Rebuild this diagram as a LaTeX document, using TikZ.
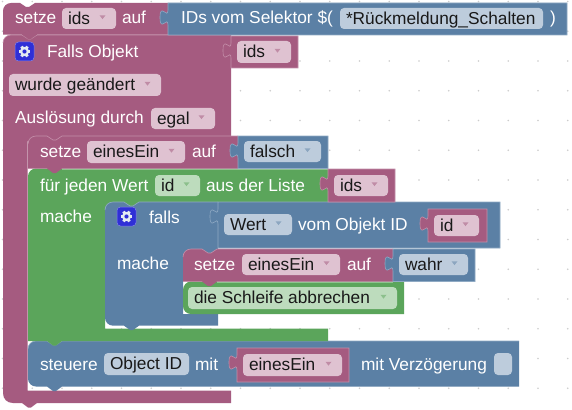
\documentclass[tikz,border=0pt]{standalone}
\usepackage{fontspec}
\setmainfont{Liberation Sans}
\definecolor{pk}{HTML}{A55B80}
\definecolor{pkl}{HTML}{C48FAA}
\definecolor{pkf}{HTML}{DFC2D1}
\definecolor{bl}{HTML}{5B80A5}
\definecolor{bll}{HTML}{8FAAC4}
\definecolor{blf}{HTML}{BDCCDC}
\definecolor{gr}{HTML}{5BA55B}
\definecolor{grl}{HTML}{8FC48F}
\definecolor{grf}{HTML}{BDDCBD}
\definecolor{ico}{HTML}{2F2FD6}
\newcount\txtn
\newcommand{\blktxt}[3]{\global\advance\txtn by 1
  \node[lbl,text=#1] (t\the\txtn) at (#2) {#3};}
\newcommand{\lb}[3]{\blktxt{white}{#1,#2}{#3}}
% field: x1 y1 x2 y2 fill arrowcol text
\newcommand{\fld}[7]{\fill[#5,rounded corners=4pt] (#1,#2) rectangle (#3,#4);
  \blktxt{black!90}{#1+6,{(#2+#4)/2+5.6}}{#7}
  \fill[#6] (#3-16.5,{(#2+#4)/2-3.2}) -- (#3-10.5,{(#2+#4)/2-3.2}) -- (#3-13.5,{(#2+#4)/2+0.6}) -- cycle;}
\newcommand{\fldn}[6]{\fill[#5,rounded corners=4pt] (#1,#2) rectangle (#3,#4);
  \blktxt{black!90}{#1+6,{(#2+#4)/2+5.6}}{#6}}
% value block: x1 y1 x2 y2 col light
\newcommand{\valb}[6]{\filldraw[fill=#5,draw=#6,line width=.6pt]
  (#1,#2) -- (#3,#2) -- (#3,#4) -- (#1,#4) -- (#1,#2+22)
  .. controls (#1,#2+12) and (#1-8,#2+30) .. (#1-8,#2+14.5)
  .. controls (#1-8,#2-1) and (#1,#2+17) .. (#1,#2+7) -- cycle;}
% top edge highlight: x1 y1 x2 light
\newcommand{\tophl}[4]{\draw[#4,line width=.6pt]
  (#1,#2+8) .. controls (#1,#2+3.5) and (#1+3.5,#2) .. (#1+8,#2) -- (#1+19,#2) -- (#1+25,#2+4) -- (#1+28,#2+4) -- (#1+34,#2) -- (#3,#2);}
% plain statement, square bottom left, bottom tab
\newcommand{\stmt}[6]{\fill[#5]
  (#1,#2+8) .. controls (#1,#2+3.5) and (#1+3.5,#2) .. (#1+8,#2) -- (#1+19,#2) -- (#1+25,#2+4) -- (#1+28,#2+4) -- (#1+34,#2)
  -- (#3,#2) -- (#3,#4) -- (#1+34,#4) -- (#1+28,#4+4.5) -- (#1+25,#4+4.5) -- (#1+19,#4) -- (#1,#4) -- cycle;
  \tophl{#1}{#2}{#3}{#6}}
\newcommand{\gearico}[2]{%
  \begin{scope}[shift={(#1,#2)}]
  \fill[ico,rounded corners=3.5pt,draw=ico!60!white,line width=.5pt] (-9.5,-9.5) rectangle (9.5,9.5);
  \foreach \a in {0,60,...,300}{\draw[blf!40!white,line width=3pt] (0,0) -- (\a:5.8);}
  \fill[blf!40!white] (0,0) circle (4.6pt);
  \fill[ico] (0,0) circle (2.1pt);
  \end{scope}}
\begin{document}
\begin{tikzpicture}[x=1pt,y=-1pt,
  lbl/.style={inner sep=0pt,outer sep=0pt,anchor=base west,font=\fontsize{17.3}{20}\selectfont}]
\useasboundingbox (0,0) rectangle (572,409);
\fill[white] (0,0) rectangle (572,409);
\foreach \i in {0,...,19}\foreach \j in {0,...,13}{\fill[black!20] (2.5+29.75*\i,1.5+29.75*\j) circle (.9pt);}
% Falls Objekt
\fill[pk] (3,43) .. controls (3,38.5) and (6.5,35) .. (11,35) -- (22,35) -- (28,39) -- (31,39) -- (37,35)
  -- (231,35) -- (231,141) -- (27.5,141) -- (27.5,390.7) -- (231,390.7) -- (231,403) -- (37,403) -- (31,407.5) -- (28,407.5) -- (22,403) -- (13,403)
  .. controls (7,403) and (3,399) .. (3,393) -- cycle;
\tophl{3}{35}{231}{pkl}
% steuere
\fill[bl] (28,349) .. controls (28,344.5) and (31.5,341) .. (36,341) -- (47,341) -- (53,345) -- (56,345) -- (62,341)
  -- (519,341) -- (519,386.5) -- (62,386.5) -- (56,391) -- (53,391) -- (47,386.5) -- (36,386.5)
  .. controls (31.5,386.5) and (28,383) .. (28,378.5) -- cycle;
\tophl{28}{341}{519}{bll}
\valb{237}{348}{349}{382}{pk}{pkl}
% for
\fill[gr] (28,176.5) .. controls (28,172) and (31.5,168.5) .. (36,168.5) -- (47,168.5) -- (328,168.5) -- (328,202) -- (218,202) -- (218,208) -- (105,208)
  -- (105,328.5) -- (328,328.5) -- (328,341) -- (62,341) -- (56,345.5) -- (53,345.5) -- (47,341) -- (28,341) -- cycle;
\draw[grl,line width=.6pt] (62,168.8) -- (328,168.8);
% falls
\fill[bl] (105,210) .. controls (105,205.5) and (108.5,202) .. (113,202) -- (124,202) -- (130,206) -- (133,206) -- (139,202)
  -- (218,202) -- (218,254) -- (190,254) -- (190,258) -- (183,258) -- (183,314) -- (218,314) -- (218,325.7) -- (139,325.7) -- (133,330) -- (130,330) -- (124,325.7) -- (113,325.7)
  .. controls (108.5,325.7) and (105,322) .. (105,317.7) -- cycle;
\tophl{105}{202}{218}{bll}
\valb{218}{202}{500}{248}{bl}{bll}
\valb{428}{209}{487}{242}{pk}{pkl}
% die Schleife
\fill[gr] (183,290) .. controls (183,285.5) and (186.5,281.5) .. (191,281.5) -- (404,281.5) -- (404,314) -- (191,314)
  .. controls (186.5,314) and (183,310.5) .. (183,306) -- cycle;
\draw[grl,line width=.6pt] (217,281.8) -- (393,281.8);
% setze inner
\stmt{183}{249}{393}{281.5}{pk}{pkl}
\valb{393}{249}{475}{281.5}{bl}{bll}
% setze einesEin
\stmt{28}{136}{238}{168.5}{pk}{pkl}
\valb{238}{136}{328}{168.5}{bl}{bll}
\valb{328}{169}{395}{202}{pk}{pkl}
\valb{231}{36}{298}{68}{pk}{pkl}
% setze ids
\fill[pk] (3,11) .. controls (3,6.5) and (6.5,3) .. (11,3) -- (20,3) -- (26,7) -- (29,7) -- (35,3) -- (168,3) -- (168,34.7) -- (37,34.7) -- (31,39) -- (28,39) -- (22,34.7) -- (3,34.7) -- cycle;
\valb{168}{3}{567}{35}{bl}{bll}
% texts and fields
\lb{15}{24}{setze}
\fld{62}{8}{116}{29}{pkf}{pk!70}{ids}
\lb{122}{24}{auf}
\lb{181}{24}{IDs vom Selektor \$(}
\fldn{340}{8}{543}{29}{blf}{*Rückmeldung\_Schalten}
\lb{550}{24}{)}
\gearico{24.5}{51.5}
\lb{47}{57.5}{Falls Objekt}
\fld{237}{41}{291}{63}{pkf}{pk!70}{ids}
\fld{9}{74}{161}{96}{pkf}{pk!70}{wurde geändert}
\lb{15}{124}{Auslösung durch}
\fld{151}{108}{215}{129}{pkf}{pk!70}{egal}
\lb{40}{157.5}{setze}
\fld{87}{141}{185}{163}{pkf}{pk!70}{einesEin}
\lb{192}{157.5}{auf}
\fld{244}{141}{321}{162}{blf}{bl!70}{falsch}
\lb{40}{191}{für jeden Wert}
\fld{155}{175}{200}{196}{grf}{gr!70}{id}
\lb{206}{191}{aus der Liste}
\fld{334}{175}{388}{196}{pkf}{pk!70}{ids}
\lb{40}{222}{mache}
\gearico{126.5}{216.5}
\lb{149}{223}{falls}
\fld{224}{214}{292}{235}{blf}{bl!70}{Wert}
\lb{298}{230}{vom Objekt ID}
\fld{434}{215}{479}{236}{pkf}{pk!70}{id}
\lb{117}{269}{mache}
\lb{194}{270}{setze}
\fld{242}{254}{340}{275}{pkf}{pk!70}{einesEin}
\lb{347}{270}{auf}
\fld{399}{254}{468}{275}{blf}{bl!70}{wahr}
\fld{188}{287}{397}{309}{grf}{gr!70}{die Schleife abbrechen}
\lb{40}{370}{steuere}
\fldn{104}{353}{189}{375}{blf}{Object ID}
\lb{195}{370}{mit}
\fld{243}{354}{342}{376}{pkf}{pk!70}{einesEin}
\lb{361}{370}{mit Verzögerung}
\fill[blf,rounded corners=4pt] (494,353) rectangle (512,375);
\end{tikzpicture}
\end{document}
